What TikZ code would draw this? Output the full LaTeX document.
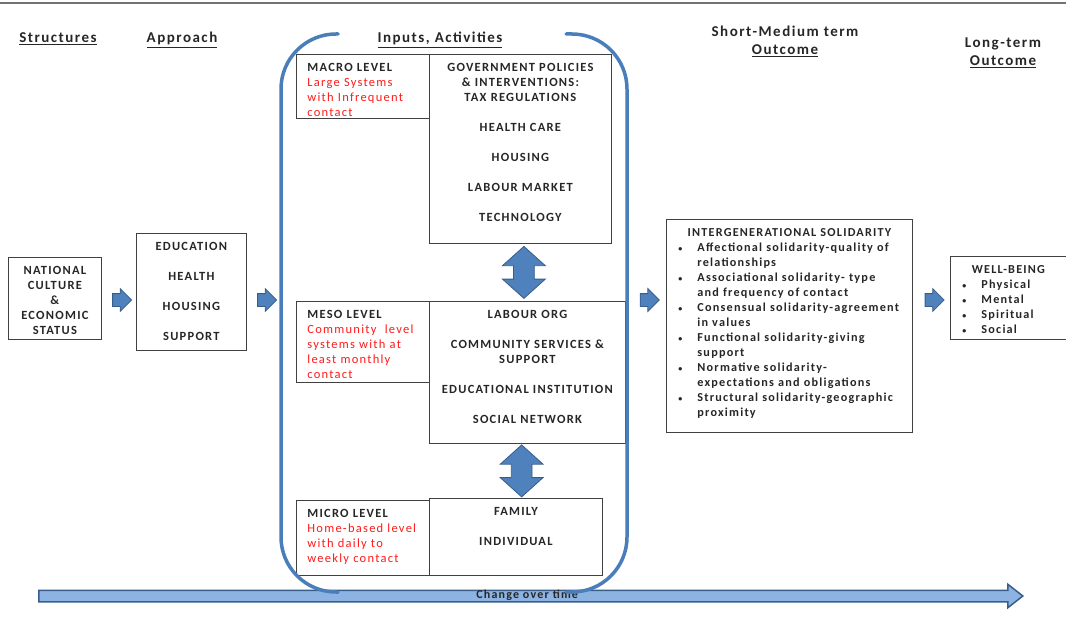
\documentclass[tikz,border=0pt]{standalone}
\usepackage{fontspec}
\setmainfont{Carlito}[LetterSpace=10]
\usetikzlibrary{shapes.arrows}

\definecolor{frameblue}{HTML}{4A7EBB}
\definecolor{arrowblue}{HTML}{4F81BD}
\definecolor{arrowedge}{HTML}{385D8A}
\definecolor{timeblue}{HTML}{8DB3E2}
\definecolor{levelred}{HTML}{FF1A1A}

\newcommand{\listbul}{\makebox[20pt][l]{\hspace{1pt}{\fontsize{8}{8}\selectfont\textbullet}}}
\newcommand{\listind}{\hspace*{20pt}}

\begin{document}
\begin{tikzpicture}[x=1pt, y=-1pt,
    box/.style={draw=black!75, line width=0.8pt, anchor=north west, align=center,
        inner xsep=5pt, inner ysep=5pt, text height=12pt, text=black!85,
        font=\bfseries\fontsize{12.5}{15}\selectfont},
    levelbox/.style={box, align=left, inner xsep=11pt},
    listbox/.style={box, align=left, inner xsep=11pt,
        font=\bfseries\fontsize{12.2}{15}\selectfont},
    head/.style={anchor=base, inner sep=0pt, align=center, text width=200pt,
        text=black!85, font=\bfseries\fontsize{15}{18}\selectfont},
    blockarrow/.style={single arrow, fill=arrowblue, draw=arrowedge, line width=0.8pt,
        inner xsep=0pt, inner ysep=6pt, minimum height=19pt, single arrow head extend=5pt},
    linkarrow/.style={double arrow, rotate=90, fill=arrowblue, draw=arrowedge, line width=0.8pt,
        inner xsep=0pt, inner ysep=10pt, minimum height=52pt, double arrow head extend=11pt,
        double arrow tip angle=96},
    timearrow/.style={single arrow, fill=timeblue, draw=arrowedge, line width=1.5pt,
        inner sep=0pt, text height=7pt, text depth=3pt, minimum height=984pt,
        single arrow head extend=6pt, single arrow tip angle=76, text=black!85,
        font=\bfseries\fontsize{12}{15}\selectfont},
    spanframe/.style={draw=frameblue, line width=3.5pt, line cap=round, rounded corners=55pt}]

    \useasboundingbox (0,0) rectangle (1066,626);
    % top rule
    \draw[black!55, line width=1.5pt] (0,3) -- (1066,3);

    % column headings
    \node[head] (hStruct) at (58,43) {\underline{Structures}};
    \node[head] (hAppr) at (182,43) {\underline{Approach}};
    \node[head] (hInput) at (440,43) {\underline{Inputs, Activities}};
    \node[head] (hShort) at (785,37) {Short-Medium term\\\underline{Outcome}};
    \node[head] (hLong) at (1003,48) {Long-term\\\underline{Outcome}};

    % structures and approach
    \node[box, text width=83pt, text depth=60pt] (nat) at (8,257)
        {NATIONAL\\CULTURE\\\&\\ECONOMIC\\STATUS};
    \node[box, text width=100pt, text depth=95pt] (appr) at (136,233)
        {EDUCATION\\[15pt]HEALTH\\[15pt]HOUSING\\[15pt]SUPPORT};

    % levels
    \node[levelbox, text width=111pt, text depth=42pt] (macro) at (296,54)
        {MACRO LEVEL\\\color{levelred}\mdseries Large Systems\\with Infrequent\\contact};
    \node[box, text width=172pt, text depth=167pt] (gov) at (429,54)
        {GOVERNMENT POLICIES\\\& INTERVENTIONS:\\TAX REGULATIONS\\[15pt]HEALTH CARE\\[15pt]HOUSING\\[15pt]LABOUR MARKET\\[15pt]TECHNOLOGY};
    \node[levelbox, text width=111pt, text depth=59pt] (meso) at (296,301)
        {MESO LEVEL\\\color{levelred}\mdseries Community\ \ level\\systems with at\\least monthly\\contact};
    \node[box, text width=186pt, text depth=120pt] (labour) at (429,301)
        {LABOUR ORG\\[15pt]COMMUNITY SERVICES \&\\SUPPORT\\[15pt]EDUCATIONAL INSTITUTION\\[15pt]SOCIAL NETWORK};
    \node[levelbox, text width=111pt, text depth=53pt] (micro) at (296,500)
        {MICRO LEVEL\\\color{levelred}\mdseries Home-based level\\with daily to\\weekly contact};
    \node[box, text width=163pt, text depth=55pt] (family) at (429,498)
        {FAMILY\\[15pt]INDIVIDUAL};

    % outcomes
    \node[listbox, text width=224pt, text depth=191pt] (inter) at (666,219)
        {\makebox[\hsize]{INTERGENERATIONAL SOLIDARITY}\\
         \listbul Affectional solidarity-quality of\\\listind relationships\\
         \listbul Associational solidarity- type\\\listind and frequency of contact\\
         \listbul Consensual solidarity-agreement\\\listind in values\\
         \listbul Functional solidarity-giving\\\listind support\\
         \listbul Normative solidarity-\\\listind expectations and obligations\\
         \listbul Structural solidarity-geographic\\\listind proximity};
    \node[listbox, text width=94pt, text depth=61pt] (well) at (950,256)
        {\makebox[\hsize]{WELL-BEING}\\
         \listbul Physical\\\listbul Mental\\\listbul Spiritual\\\listbul Social};

    % block arrows between columns
    \coordinate (row) at (0,300);
    \coordinate (frameL) at (281,300);
    \coordinate (frameR) at (627,300);
    \path (nat.east |- row) -- (appr.west |- row) node[midway, blockarrow] (step1) {};
    \path (appr.east |- row) -- (frameL) node[midway, blockarrow] (step2) {};
    \path (frameR) -- (inter.west |- row) node[midway, blockarrow] (step3) {};
    \path (inter.east |- row) -- (well.west |- row) node[midway, blockarrow] (step4) {};

    % links between levels
    \path (gov.south) -- (labour.north) node[midway, linkarrow] (link1) {};
    \path (labour.south) -- (family.north) node[midway, linkarrow] (link2) {};

    % time axis
    \node[timearrow, anchor=west] (time) at (38,596) {Change over time};

    % bracket round the levels
    \draw[spanframe] (338,34) -- (281,34) -- (281,592) -- (338,592);
    \draw[spanframe] (566,34) -- (627,34) -- (627,592) -- (566,592);
\end{tikzpicture}
\end{document}
